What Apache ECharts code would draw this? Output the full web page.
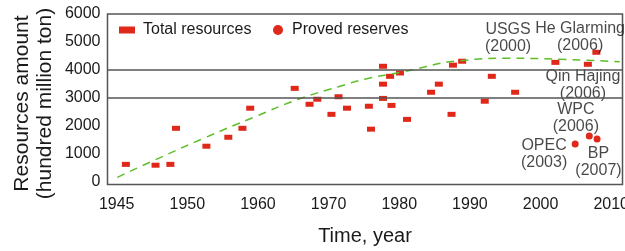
<!DOCTYPE html>
<html lang="en">
<head>
    <meta charset="UTF-8">
    <title>Resources</title>
    <script src="https://cdn.jsdelivr.net/npm/echarts@6/dist/echarts.min.js"></script>
    <style>
        html, body { margin: 0; padding: 0; background: #fff; }
    </style>
</head>
<body>
<div id="main" style="width: 625px;height:251px;"></div>
<script type="text/javascript">
    // total resources estimates: [year, amount]
    var totalResources = [
        [1941.3, 620], [1945.5, 590], [1947.6, 620], [1948.4, 1910],
        [1952.7, 1270], [1955.8, 1590], [1957.8, 1910], [1958.9, 2630],
        [1965.2, 3340], [1967.3, 2770], [1968.4, 2950], [1970.4, 2410],
        [1971.4, 3040], [1972.6, 2630], [1975.7, 2700], [1976.0, 1880],
        [1977.7, 4130], [1978.7, 3770], [1977.7, 3490], [1977.7, 2980],
        [1978.9, 2730], [1980.1, 3890], [1981.1, 2230], [1984.5, 3200],
        [1985.6, 3490], [1987.6, 4170], [1987.4, 2410], [1988.9, 4310],
        [1992.1, 2880], [1993.1, 3770], [1996.4, 3200], [2002.1, 4270],
        [2006.7, 4200], [2007.9, 4630]
    ];
    // proved reserves
    var provedReserves = [
        [2004.9, 1350], [2006.9, 1635], [2008.0, 1530]
    ];
    // trend line
    var trend = [
        [1940.1, 157], [1945.4, 776], [1952.5, 1574], [1959.6, 2326],
        [1965.7, 2948], [1971.4, 3399], [1975.1, 3664], [1980.6, 3936],
        [1988.6, 4329], [1995.6, 4415], [2002.7, 4380], [2011.2, 4294]
    ];
    // source notes: [year, amount, text]
    var notes = [
        [1995.4, 5130, 'USGS\n(2000)'],
        [2005.6, 5170, 'He Glarming\n(2006)'],
        [2006.0, 3470, 'Qin Hajing\n(2006)'],
        [2005.0, 2270, 'WPC\n(2006)'],
        [2000.5, 985, 'OPEC\n(2003)'],
        [2008.2, 690, 'BP\n(2007)']
    ];
    var xTicks = [1940, 1950, 1960, 1970, 1980, 1990, 2000, 2010];
    var xTickText = ['1945', '1950', '1960', '1970', '1980', '1990', '2000', '2010'];
    var yTicks = [0, 1000, 2000, 3000, 4000, 5000, 6000];
    var refLines = [3000, 4000];

    var FONT = '"Liberation Sans", Arial, sans-serif';
    var RED = '#e0281a';
    var INK = '#1a1a1a';

    var myChart = echarts.init(document.getElementById('main'));

    var option = {
        animation: false,
        textStyle: { fontFamily: FONT },
        grid: {
            left: 107.5, top: 14, right: 2.5, bottom: 66.5,
            outerBoundsMode: 'none', containLabel: false,
            show: true, borderColor: '#555', borderWidth: 1.5
        },
        legend: [{
            data: ['Total resources'],
            icon: 'rect', itemWidth: 16, itemHeight: 7,
            left: 119, top: 22, padding: 0,
            textStyle: { fontSize: 16, color: INK, fontFamily: FONT, padding: [0, 0, 0, 3] }
        }, {
            data: ['Proved reserves'],
            icon: 'circle', itemWidth: 10, itemHeight: 10,
            left: 273, top: 22, padding: 0,
            textStyle: { fontSize: 16, color: INK, fontFamily: FONT, padding: [0, 0, 0, 4] }
        }],
        xAxis: {
            type: 'value', min: 1938.7, max: 2011.6,
            name: 'Time, year', nameLocation: 'middle', nameGap: 42,
            nameTextStyle: { fontSize: 20, color: INK, fontFamily: FONT },
            axisLine: { show: false }, axisTick: { show: false },
            splitLine: { show: false },
            axisLabel: {
                customValues: xTicks, fontSize: 16, color: INK, margin: 12,
                formatter: function (v) {
                    var i = xTicks.indexOf(v);
                    return i >= 0 ? xTickText[i] : '';
                }
            }
        },
        yAxis: {
            type: 'value', min: -100, max: 6000,
            axisLine: { show: false }, axisTick: { show: false },
            splitLine: { show: false },
            axisLabel: {
                customValues: yTicks, fontSize: 16, color: INK, margin: 7,
                formatter: function (v) { return String(v); }
            }
        },
        graphic: [{
            type: 'text', x: 33.5, y: 103.5, rotation: Math.PI / 2,
            style: {
                text: 'Resources amount\n(hundred million ton)',
                font: '21px ' + FONT, fill: INK,
                align: 'center', verticalAlign: 'middle', lineHeight: 23
            }
        }],
        series: [{
            name: 'trend', type: 'line', data: trend, smooth: true,
            showSymbol: false, silent: true,
            lineStyle: { color: '#5cbf2a', width: 1.5, type: [8, 6] },
            markLine: {
                silent: true, symbol: 'none', label: { show: false },
                lineStyle: { color: '#555', width: 1.5, type: 'solid' },
                data: refLines.map(function (v) { return { yAxis: v }; })
            }
        }, {
            name: 'Total resources', type: 'scatter', data: totalResources,
            symbol: 'rect', symbolSize: [8, 5],
            itemStyle: { color: RED, opacity: 1 }
        }, {
            name: 'Proved reserves', type: 'scatter', data: provedReserves,
            symbol: 'circle', symbolSize: 7,
            itemStyle: { color: RED, opacity: 1 }
        }, {
            name: 'notes', type: 'scatter', silent: true, symbolSize: 0,
            data: notes.map(function (n) { return { value: [n[0], n[1]], text: n[2] }; }),
            label: {
                show: true, position: 'inside', fontSize: 16, color: INK,
                lineHeight: 17, align: 'center', verticalAlign: 'middle',
                formatter: function (p) { return p.data.text; }
            }
        }]
    };
    myChart.setOption(option);
</script>
</body>
</html>
